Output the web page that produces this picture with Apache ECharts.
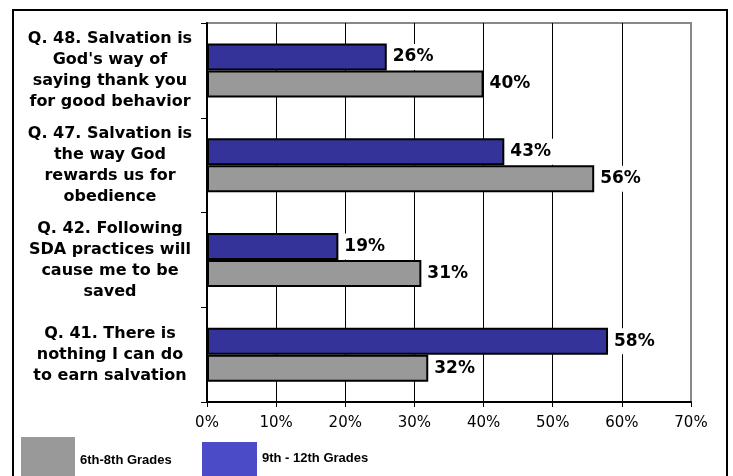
<!DOCTYPE html>
<html>
<head>
<meta charset="utf-8">
<script src="https://cdn.jsdelivr.net/npm/echarts@6/dist/echarts.min.js"></script>
<style>
html,body{margin:0;padding:0;background:#fff;}
#chart{width:733px;height:476px;}
</style>
</head>
<body>
<div id="chart"></div>
<script>
var categories = [
  "Q. 48. Salvation is\nGod's way of\nsaying thank you\nfor good behavior",
  "Q. 47. Salvation is\nthe way God\nrewards us for\nobedience",
  "Q. 42. Following\nSDA practices will\ncause me to be\nsaved",
  "Q. 41. There is\nnothing I can do\nto earn salvation"
];
var seriesNames = ["9th - 12th Grades", "6th-8th Grades"];
var grades9to12 = [26, 43, 19, 58];
var grades6to8 = [40, 56, 31, 32];
var xTicks = { min: 0, max: 70, interval: 10 };

var chart = echarts.init(document.getElementById('chart'));
var labelStyle = {
  show: true,
  position: 'right',
  distance: 1,
  formatter: '{c}%',
  color: '#000',
  fontFamily: 'DejaVu Sans',
  fontWeight: 'bold',
  fontSize: 17,
  backgroundColor: '#fff',
  padding: [5, 6, 4, 5]
};
var legendText = { fontFamily: 'Liberation Sans', fontWeight: 'bold', fontSize: 13, color: '#000' };
chart.setOption({
  animation: false,
  backgroundColor: '#fff',
  graphic: [{
    type: 'rect',
    shape: { x: 13, y: 10, width: 714, height: 490 },
    style: { fill: null, stroke: '#000', lineWidth: 2 },
    z: 100
  }],
  legend: [{
    data: [{ name: seriesNames[1], itemStyle: { color: '#999999', borderWidth: 0 } }],
    left: 21, top: 437, padding: 0,
    icon: 'rect', itemWidth: 54, itemHeight: 46,
    textStyle: legendText
  }, {
    data: [{ name: seriesNames[0], itemStyle: { color: '#4B4BC8', borderWidth: 0 } }],
    left: 202, top: 442, padding: 0,
    icon: 'rect', itemWidth: 55, itemHeight: 40,
    formatter: '{t|{name}}\n{g|}',
    textStyle: {
      rich: {
        t: legendText,
        g: { fontSize: 8, lineHeight: 8 }
      }
    }
  }],
  grid: {
    left: 207, right: 42, top: 23, bottom: 74,
    show: true, borderColor: '#888', borderWidth: 2, backgroundColor: '#fff'
  },
  xAxis: {
    type: 'value',
    min: xTicks.min, max: xTicks.max, interval: xTicks.interval,
    axisLine: { show: true, lineStyle: { color: '#000', width: 2 } },
    axisTick: { show: true, length: 5, lineStyle: { color: '#000' } },
    axisLabel: { formatter: '{value}%', color: '#000', fontFamily: 'DejaVu Sans', fontSize: 15, margin: 14 },
    splitLine: { show: true, lineStyle: { color: ['#000', '#000', '#000', '#000', '#000', '#000', '#000', '#888'], width: 1 } }
  },
  yAxis: {
    type: 'category',
    inverse: true,
    data: categories,
    axisLine: { show: true, lineStyle: { color: '#000', width: 2 } },
    axisTick: { show: true, length: 6, lineStyle: { color: '#000' } },
    axisLabel: {
      margin: 2,
      formatter: function (v) {
        return v.split('\n').map(function (s) { return '{a|' + s + '}'; }).join('\n');
      },
      rich: {
        a: { width: 190, align: 'center', fontFamily: 'DejaVu Sans', fontWeight: 'bold', fontSize: 16, lineHeight: 21, color: '#000' }
      }
    }
  },
  series: [{
    name: seriesNames[0],
    type: 'bar',
    data: grades9to12,
    barWidth: 27,
    barGap: '0%',
    itemStyle: { color: '#333399', borderColor: '#000', borderWidth: 2 },
    label: labelStyle,
    z: 3
  }, {
    name: seriesNames[1],
    type: 'bar',
    data: grades6to8,
    barWidth: 27,
    barGap: '0%',
    itemStyle: { color: '#999999', borderColor: '#000', borderWidth: 2 },
    label: labelStyle,
    z: 2
  }]
});
</script>
</body>
</html>
